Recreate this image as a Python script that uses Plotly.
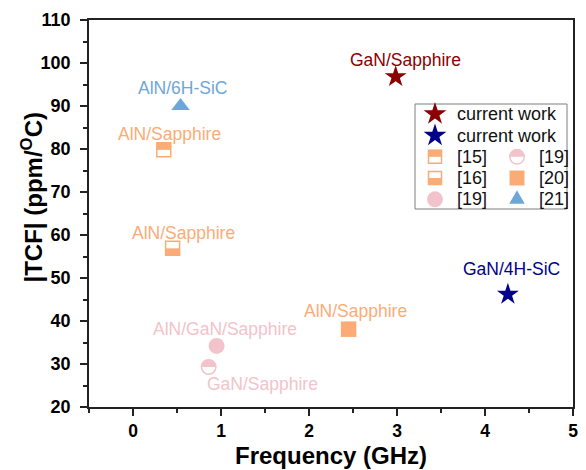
import plotly.graph_objects as go
import math

# ---------------- data ----------------
cw_labels = ["GaN/Sapphire", "GaN/4H-SiC"]
cw_freq = [2.985, 4.26]
cw_tcf = [96.8, 46.2]
cw_colors = ["#8B0000", "#00008B"]

r15_freq, r15_tcf, r15_lab = [0.35], [79.8], ["AlN/Sapphire"]   # square, top half filled
r16_freq, r16_tcf, r16_lab = [0.45], [56.9], ["AlN/Sapphire"]   # square, bottom half filled
r19a_freq, r19a_tcf, r19a_lab = [0.95], [34.2], ["AlN/GaN/Sapphire"]  # filled circle
r19b_freq, r19b_tcf, r19b_lab = [0.86], [29.3], ["GaN/Sapphire"]      # half-filled circle
r20_freq, r20_tcf, r20_lab = [2.45], [38.1], ["AlN/Sapphire"]   # filled square
r21_freq, r21_tcf, r21_lab = [0.54], [90.0], ["AlN/6H-SiC"]     # triangle

legend_labels = ["current work", "current work", "[15]", "[16]", "[19]", "[19]", "[20]", "[21]"]
x_title = "Frequency (GHz)"
y_title = "|TCF| (ppm/<sup>O</sup>C)"

ORANGE = "#FBAC76"
PINK = "#F2C3CB"
BLUE = "#6FA6D8"
FONT = "Liberation Sans, Arial, sans-serif"

W, H = 586, 470
L, R, T, B = 89, 13, 20, 63
PW, PH = W - L - R, H - T - B


def px2paper(px, py):
    return (px - L) / PW, (T + PH - py) / PH


def star_path(Ro):
    Ri = Ro * 0.382
    pts = []
    for i in range(10):
        ang = math.pi / 2 + i * math.pi / 5
        rr = Ro if i % 2 == 0 else Ri
        pts.append((rr * math.cos(ang), rr * math.sin(ang)))
    return "M " + " L ".join(f"{x:.2f},{y:.2f}" for x, y in pts) + " Z"


def tri_path(w):
    h = w * math.sqrt(3) / 2
    return f"M {-w/2:.2f},{-h/3:.2f} L {w/2:.2f},{-h/3:.2f} L 0,{2*h/3:.2f} Z"


def half_circle_top(r, n=24):
    pts = [(r * math.cos(math.pi * k / n), r * math.sin(math.pi * k / n)) for k in range(n + 1)]
    return "M " + " L ".join(f"{x:.2f},{y:.2f}" for x, y in pts) + " Z"


fig = go.Figure()
shapes = []
annotations = []

# current work stars
for i in range(len(cw_freq)):
    fig.add_trace(go.Scatter(x=[cw_freq[i]], y=[cw_tcf[i]], mode="markers",
                             marker=dict(symbol="star", size=16.5, color=cw_colors[i], line=dict(width=0)),
                             showlegend=False, hoverinfo="skip"))

fig.add_trace(go.Scatter(x=r15_freq + r16_freq, y=r15_tcf + r16_tcf, mode="markers",
                         marker=dict(symbol="square", size=14, color="white", line=dict(width=1.5, color=ORANGE)),
                         showlegend=False, hoverinfo="skip"))
fig.add_trace(go.Scatter(x=r20_freq, y=r20_tcf, mode="markers",
                         marker=dict(symbol="square", size=15.5, color=ORANGE, line=dict(width=0)),
                         showlegend=False, hoverinfo="skip"))
fig.add_trace(go.Scatter(x=r19a_freq, y=r19a_tcf, mode="markers",
                         marker=dict(symbol="circle", size=16, color=PINK, line=dict(width=0)),
                         showlegend=False, hoverinfo="skip"))
fig.add_trace(go.Scatter(x=r19b_freq, y=r19b_tcf, mode="markers",
                         marker=dict(symbol="circle", size=14.5, color="white", line=dict(width=1.5, color=PINK)),
                         showlegend=False, hoverinfo="skip"))
fig.add_trace(go.Scatter(x=r21_freq, y=r21_tcf, mode="markers",
                         marker=dict(symbol="triangle-up", size=16, color=BLUE, line=dict(width=0)),
                         showlegend=False, hoverinfo="skip"))

# half fills on data markers
for xv, yv in zip(r15_freq, r15_tcf):
    shapes.append(dict(type="rect", xref="x", yref="y", xsizemode="pixel", ysizemode="pixel",
                       xanchor=xv, yanchor=yv, x0=-7, x1=7, y0=0, y1=7,
                       fillcolor=ORANGE, line=dict(width=0), layer="above"))
for xv, yv in zip(r16_freq, r16_tcf):
    shapes.append(dict(type="rect", xref="x", yref="y", xsizemode="pixel", ysizemode="pixel",
                       xanchor=xv, yanchor=yv, x0=-7, x1=7, y0=-7, y1=0,
                       fillcolor=ORANGE, line=dict(width=0), layer="above"))
for xv, yv in zip(r19b_freq, r19b_tcf):
    shapes.append(dict(type="path", xref="x", yref="y", xsizemode="pixel", ysizemode="pixel",
                       xanchor=xv, yanchor=yv, path=half_circle_top(7.6),
                       fillcolor=PINK, line=dict(width=0), layer="above"))

LABEL_SIZE = 17.5


def lab(xs, ys, texts, color, dx, dy):
    for xv, yv, t in zip(xs, ys, texts):
        annotations.append(dict(x=xv, y=yv, xref="x", yref="y", text=t, showarrow=False,
                                xshift=dx, yshift=dy, xanchor="center", yanchor="middle",
                                font=dict(family=FONT, size=LABEL_SIZE, color=color)))

lab(cw_freq[:1], cw_tcf[:1], cw_labels[:1], cw_colors[0], 10, 17)
lab(cw_freq[1:], cw_tcf[1:], cw_labels[1:], cw_colors[1], 4, 25)
lab(r21_freq, r21_tcf, r21_lab, BLUE, 2, 18)
lab(r15_freq, r15_tcf, r15_lab, ORANGE, 6, 16)
lab(r16_freq, r16_tcf, r16_lab, ORANGE, 11, 15)
lab(r20_freq, r20_tcf, r20_lab, ORANGE, 7, 18.5)
lab(r19a_freq, r19a_tcf, r19a_lab, PINK, 8, 17)
lab(r19b_freq, r19b_tcf, r19b_lab, PINK, 54, -17)

# ---------------- custom legend ----------------
bx0, by0 = px2paper(415, 209)
bx1, by1 = px2paper(567, 104)
shapes.append(dict(type="rect", xref="paper", yref="paper", x0=bx0, y0=by0, x1=bx1, y1=by1,
                   fillcolor="white", line=dict(color="#7F7F7F", width=1), layer="above"))

rows = [114, 135.5, 156.8, 178, 199.3]
c1m, c1t, c2m, c2t = 435, 455, 517, 537


def pshape(px, py, **kw):
    ax, ay = px2paper(px, py)
    d = dict(xref="paper", yref="paper", xsizemode="pixel", ysizemode="pixel",
             xanchor=ax, yanchor=ay, layer="above", line=dict(width=0))
    d.update(kw)
    shapes.append(d)


def ltext(px, py, t, size=18, color="#111111", **kw):
    ax, ay = px2paper(px, py)
    d = dict(x=ax, y=ay, xref="paper", yref="paper", text=t, showarrow=False,
             xanchor="left", yanchor="middle",
             font=dict(family=FONT, size=size, color=color))
    d.update(kw)
    annotations.append(d)

pshape(c1m, rows[0], type="path", path=star_path(12), fillcolor=cw_colors[0])
ltext(c1t, rows[0], legend_labels[0])
pshape(c1m, rows[1], type="path", path=star_path(12), fillcolor=cw_colors[1])
ltext(c1t, rows[1], legend_labels[1])
# [15]
pshape(c1m, rows[2], type="rect", x0=-6.5, x1=6.5, y0=-6.5, y1=6.5, fillcolor="white",
       line=dict(width=1.5, color=ORANGE))
pshape(c1m, rows[2], type="rect", x0=-7, x1=7, y0=0, y1=7, fillcolor=ORANGE)
ltext(c1t, rows[2], legend_labels[2])
# [16]
pshape(c1m, rows[3], type="rect", x0=-6.5, x1=6.5, y0=-6.5, y1=6.5, fillcolor="white",
       line=dict(width=1.5, color=ORANGE))
pshape(c1m, rows[3], type="rect", x0=-7, x1=7, y0=-7, y1=0, fillcolor=ORANGE)
ltext(c1t, rows[3], legend_labels[3])
# [19] filled
pshape(c1m, rows[4], type="circle", x0=-8, x1=8, y0=-8, y1=8, fillcolor=PINK)
ltext(c1t, rows[4], legend_labels[4])
# [19] half
pshape(c2m, rows[2], type="circle", x0=-7.25, x1=7.25, y0=-7.25, y1=7.25, fillcolor="white",
       line=dict(width=1.5, color=PINK))
pshape(c2m, rows[2], type="path", path=half_circle_top(7.6), fillcolor=PINK)
ltext(c2t, rows[2], legend_labels[5])
# [20]
pshape(c2m, rows[3], type="rect", x0=-7.5, x1=7.5, y0=-7.5, y1=7.5, fillcolor=ORANGE)
ltext(c2t, rows[3], legend_labels[6])
# [21]
pshape(c2m, rows[4], type="path", path=tri_path(15.5), fillcolor=BLUE)
ltext(c2t, rows[4], legend_labels[7])

# axis titles as annotations for exact placement
ax_, ay_ = px2paper(331, 470)
annotations.append(dict(x=ax_, y=ay_, xref="paper", yref="paper", text=x_title, showarrow=False,
                        xanchor="center", yanchor="bottom", borderpad=0,
                        font=dict(family=FONT, size=24, color="black", weight="bold")))
ax_, ay_ = px2paper(31, 197.5)
annotations.append(dict(x=ax_, y=ay_, xref="paper", yref="paper", text=y_title, showarrow=False,
                        xanchor="center", yanchor="middle", textangle=-90,
                        font=dict(family=FONT, size=24, color="black", weight="bold")))

axis_common = dict(showline=True, linecolor="#222222", linewidth=1.5, mirror=True,
                   ticks="outside", ticklen=7, tickwidth=1.5, tickcolor="#222222",
                   showgrid=False, zeroline=False, automargin=False)

fig.update_layout(
    width=W, height=H,
    margin=dict(l=L, r=R, t=T, b=B),
    paper_bgcolor="white", plot_bgcolor="white",
    showlegend=False,
    shapes=shapes, annotations=annotations,
    xaxis=dict(range=[-0.5, 5.0], dtick=1, tick0=0,
               minor=dict(dtick=0.5, ticks="outside", ticklen=4, tickwidth=1.5, tickcolor="#222222"),
               ticklabelstandoff=0,
               tickfont=dict(family=FONT, size=17.5, color="black", weight="bold"),
               **axis_common),
    yaxis=dict(range=[20, 110], dtick=10, tick0=20,
               minor=dict(dtick=5, ticks="outside", ticklen=4, tickwidth=1.5, tickcolor="#222222"),
               ticklabelstandoff=6,
               tickfont=dict(family=FONT, size=18, color="black", weight="bold"),
               **axis_common),
)

fig.write_html("out.html")
